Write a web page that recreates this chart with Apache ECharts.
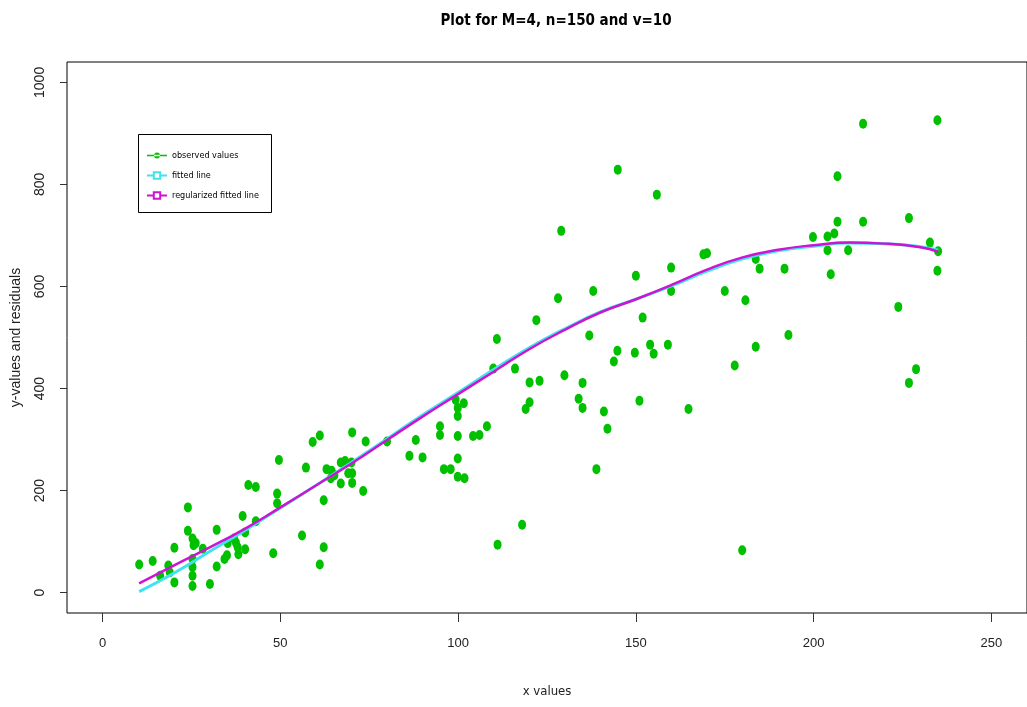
<!DOCTYPE html>
<html>
<head>
<meta charset="utf-8">
<script src="https://cdn.jsdelivr.net/npm/echarts@6/dist/echarts.min.js"></script>
<style>
  html, body { margin: 0; padding: 0; background: #fff; }
  #chart { width: 1027px; height: 707px; }
</style>
</head>
<body>
<div id="chart"></div>
<script>
var obsX = [10.3, 14.1, 16.2, 18.5, 18.9, 20.2, 20.2, 24.0, 24.0, 25.3, 25.6, 26.2, 25.3, 25.3, 25.3, 25.3,
  28.2, 30.2, 32.1, 32.1, 34.3, 35.0, 35.2, 37.0, 37.5, 38.0, 38.2, 40.1, 40.1, 39.4, 41.0, 43.1, 43.1,
  48.0, 49.6, 49.1, 49.1, 57.2, 59.1, 61.1, 56.1, 62.2, 62.2, 61.1, 63.0, 64.4, 65.2, 64.2, 67.0, 68.2,
  70.0, 69.1, 70.2, 70.2, 67.0, 73.3, 70.2, 74.0, 80.0, 86.3, 88.1, 90.0, 94.9, 94.9, 96.0, 97.9, 99.9,
  99.9, 99.9, 101.8, 99.3, 99.9, 101.6, 99.9, 104.2, 106.0, 108.1, 110.9, 109.9, 116.0, 122.0, 128.1,
  120.1, 122.9, 120.1, 119.0, 129.9, 135.0, 133.9, 135.0, 136.9, 144.8, 143.8, 149.7, 141.0, 142.0,
  138.9, 118.0, 111.1, 144.9, 155.9, 129.0, 150.0, 159.9, 159.9, 169.0, 170.0, 175.0, 180.8, 183.7,
  184.8, 183.7, 177.8, 164.8, 138.0, 151.9, 154.0, 155.0, 159.0, 151.0, 191.8, 192.9, 199.8, 179.9,
  213.9, 234.8, 206.7, 206.7, 213.9, 226.8, 203.9, 205.8, 203.9, 209.7, 204.8, 232.7, 235.0, 234.8,
  223.8, 228.8, 226.8];
var obsY = [55, 62, 33, 53, 40, 20, 88, 167, 121, 106, 93, 97, 66, 50, 33, 13,
  86, 17, 123, 51, 66, 73, 97, 106, 98, 89, 75, 85, 118, 150, 211, 207, 140,
  77, 260, 194, 175, 245, 295, 308, 112, 181, 89, 55, 242, 239, 230, 224, 255, 258,
  255, 234, 234, 215, 214, 199, 314, 296, 296, 268, 299, 265, 326, 309, 242, 242, 307,
  263, 227, 224, 378, 362, 371, 346, 307, 309, 326, 497, 439, 439, 534, 577,
  412, 415, 373, 360, 426, 411, 380, 362, 504, 474, 453, 470, 355, 321,
  242, 133, 94, 829, 780, 709, 621, 637, 591, 663, 665, 591, 573, 654,
  635, 482, 445, 360, 591, 539, 486, 468, 486, 376, 635, 505, 697, 83,
  919, 926, 816, 727, 727, 734, 698, 704, 671, 671, 624, 686, 669, 631,
  560, 438, 411];

// fitted curves
var lineX = [10.3, 20, 30, 40, 50, 60, 70, 80, 90, 100, 110, 120, 130, 140, 150, 160, 170, 180, 190, 200, 210, 220, 230, 235];
var fitY  = [2, 38, 80, 122, 166, 210, 255, 301, 348, 392, 437, 480, 517, 550, 575, 601, 630, 654, 670, 679, 685, 684, 678, 671];
var regY  = [18, 53, 88, 125, 167, 210, 253, 299, 345, 389, 433, 477, 515, 549, 575, 603, 633, 657, 672, 681, 686, 684, 677, 668];

var xTicks = [0, 50, 100, 150, 200, 250];
var yTicks = [0, 200, 400, 600, 800, 1000];

function zip(a, b) {
  return a.map(function (v, i) { return [v, b[i]]; });
}

var narrow = "'Liberation Sans Narrow', 'Arial Narrow', 'DejaVu Sans Condensed', sans-serif";
var plain = "'Liberation Sans', Arial, sans-serif";

var chart = echarts.init(document.getElementById('chart'));

chart.setOption({
  animation: false,
  backgroundColor: '#fff',
  title: {
    text: 'Plot for M=4, n=150 and v=10',
    left: 551,
    textAlign: 'center',
    top: 9,
    textStyle: { fontFamily: narrow, fontSize: 15, fontWeight: 'bold', color: '#000' }
  },
  graphic: [{
    type: 'rect',
    z: 0,
    shape: { x: 138.5, y: 134.5, width: 133, height: 78 },
    style: { fill: 'none', stroke: '#000', lineWidth: 1 }
  }],
  legend: {
    orient: 'vertical',
    left: 141,
    top: 146,
    itemWidth: 20,
    itemHeight: 8,
    itemGap: 11,
    textStyle: { fontFamily: narrow, fontSize: 9, color: '#000' },
    data: [
      { name: 'observed values', icon: 'path://M0,2.3H20V3.7H0Z M10,0A3,3 0 1,0 10,6A3,3 0 1,0 10,0Z' },
      { name: 'fitted line' },
      { name: 'regularized fitted line' }
    ]
  },
  grid: {
    left: 67,
    top: 62,
    right: -8,
    bottom: 94,
    show: true,
    borderColor: '#000',
    borderWidth: 1,
    containLabel: false
  },
  xAxis: {
    type: 'value',
    min: -10,
    max: 260,
    name: 'x values',
    nameLocation: 'middle',
    nameGap: 72,
    nameTextStyle: { fontFamily: narrow, fontSize: 13, color: '#222' },
    axisLine: { show: false, onZero: false },
    splitLine: { show: false },
    axisTick: { show: true, inside: false, length: 9, customValues: xTicks, lineStyle: { color: '#333' } },
    axisLabel: { customValues: xTicks, margin: 24, fontFamily: plain, fontSize: 13, color: '#222' }
  },
  yAxis: {
    type: 'value',
    min: -40,
    max: 1040,
    name: 'y-values and residuals',
    nameLocation: 'middle',
    nameGap: 44,
    nameTextStyle: { fontFamily: plain, fontSize: 14, color: '#222' },
    axisLine: { show: false, onZero: false },
    splitLine: { show: false },
    axisTick: { show: true, inside: false, length: 7, customValues: yTicks, lineStyle: { color: '#333' } },
    axisLabel: {
      customValues: yTicks, rotate: 90, margin: 20, fontFamily: plain, fontSize: 14, color: '#222',
      formatter: function (v) { return String(v); }
    }
  },
  series: [
    {
      name: 'observed values',
      type: 'scatter',
      symbol: 'circle',
      symbolSize: [8, 10],
      itemStyle: { color: '#00c000', opacity: 1 },
      data: zip(obsX, obsY)
    },
    {
      name: 'fitted line',
      type: 'line',
      smooth: true,
      symbol: 'emptyRect',
      symbolSize: 6,
      showSymbol: false,
      lineStyle: { color: '#3fe3ef', width: 3 },
      itemStyle: { color: '#3fe3ef' },
      data: zip(lineX, fitY)
    },
    {
      name: 'regularized fitted line',
      type: 'line',
      smooth: true,
      symbol: 'emptyRect',
      symbolSize: 6,
      showSymbol: false,
      lineStyle: { color: '#cc14d2', width: 2.5 },
      itemStyle: { color: '#cc14d2' },
      data: zip(lineX, regY)
    }
  ]
});
</script>
</body>
</html>
